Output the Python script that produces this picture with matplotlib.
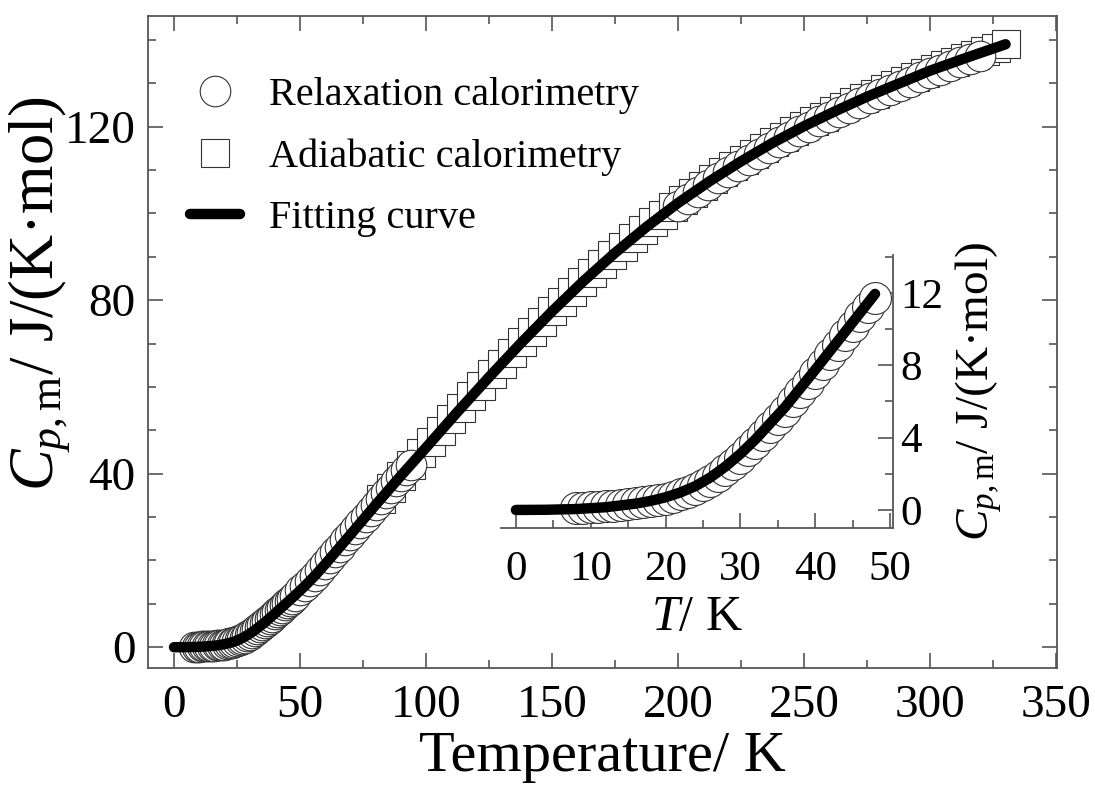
import numpy as np
import matplotlib
matplotlib.use("Agg")
import matplotlib.pyplot as plt
from matplotlib.ticker import MultipleLocator

plt.rcParams['font.family'] = ['Liberation Serif', 'DejaVu Serif']
plt.rcParams['mathtext.fontset'] = 'custom'
plt.rcParams['mathtext.rm'] = 'Liberation Serif'
plt.rcParams['mathtext.it'] = 'Liberation Serif:italic'

# fitting curve
fit_T = [0, 4, 8, 12, 16, 18, 20, 22, 24, 26, 28, 30, 32, 36, 40, 44, 48, 52,
         56, 60, 65, 70, 80, 90, 100, 112.5, 125, 137.5, 150, 162.5, 175,
         187.5, 200, 212.5, 225, 237.5, 250, 262.5, 275, 287.5, 300, 315, 330]
fit_Cp = [0, 0.01, 0.05, 0.15, 0.35, 0.5, 0.7, 0.97, 1.32, 1.8, 2.4, 3.1, 3.9,
          5.7, 7.75, 9.85, 11.95, 14.15, 16.55, 19.15, 22.55, 25.95, 32.8,
          39.5, 46.0, 54.25, 62.25, 70.0, 77.4, 84.4, 90.9, 96.9, 102.4,
          107.4, 112.0, 116.25, 120.1, 123.6, 126.9, 129.9, 132.9, 136.0,
          139.0]

# relaxation calorimetry (circles)
relax_T = [8, 9, 10, 11, 12, 13, 14, 15, 16, 17, 18, 19, 20, 21, 22, 23, 24,
           25, 26, 27, 28, 29, 30, 31, 32, 33, 34, 35, 36, 37, 38, 39, 40, 41,
           42, 43, 44, 45, 46, 47, 48,
           50, 52, 54, 56, 58, 60, 62, 64, 66, 68, 70, 72, 74, 76, 78, 80, 82,
           84, 86, 88, 90, 92, 94,
           200, 204, 208, 212, 216, 220, 224, 228, 232, 236, 240, 244, 248,
           252, 256, 260, 264, 268, 272, 276, 280, 284, 288, 292, 296, 300,
           304, 308, 312, 316, 320]
relax_Cp = [0.12, 0.13, 0.15, 0.17, 0.2, 0.23, 0.27, 0.31, 0.36, 0.42, 0.49,
            0.55, 0.62, 0.74, 0.86, 1.0, 1.16, 1.37, 1.6, 1.9, 2.2, 2.55, 2.9,
            3.3, 3.7, 4.15, 4.6, 5.05, 5.5, 6.0, 6.5, 7.0, 7.55, 8.05, 8.6,
            9.1, 9.65, 10.15, 10.7, 11.2, 11.75,
            13.1, 14.2, 15.3, 16.5, 17.8, 19.1, 20.5, 21.9, 23.2, 24.6, 25.9,
            27.3, 28.7, 30.0, 31.4, 32.8, 34.1, 35.5, 36.8, 38.2, 39.5, 40.8,
            42.1,
            101.8, 103.4, 105.0, 106.6, 108.1, 109.6, 111.0, 112.4, 113.8,
            115.1, 116.4, 117.7, 118.9, 120.0, 121.2, 122.3, 123.4, 124.4,
            125.5, 126.5, 127.5, 128.4, 129.4, 130.4, 131.4, 132.3, 133.1,
            134.0, 134.8, 135.6, 136.4]

# adiabatic calorimetry (squares)
adiab_T = [82, 86, 90, 94, 98, 102, 106, 110, 114, 118, 122, 126, 130, 134,
           138, 142, 146, 150, 154, 158, 162, 166, 170, 174, 178, 182, 186,
           190, 194, 198, 202, 206, 210, 214, 218, 222, 226, 230, 234, 238,
           242, 246, 250, 254, 258, 262, 266, 270, 274, 278, 282, 286, 290,
           294, 298, 302, 306, 310, 314, 318, 322, 326, 330]
adiab_Cp = [34.1, 36.8, 39.5, 42.1, 44.7, 47.3, 49.95, 52.6, 55.2, 57.8,
            60.3, 62.9, 65.4, 67.9, 70.3, 72.7, 75.0, 77.4, 79.6, 81.9, 84.1,
            86.2, 88.3, 90.4, 92.3, 94.3, 96.2, 98.0, 99.7, 101.5, 103.2,
            104.8, 106.4, 107.9, 109.5, 110.9, 112.3, 113.7, 115.0, 116.4,
            117.6, 118.9, 120.1, 121.2, 122.3, 123.5, 124.5, 125.6, 126.6,
            127.6, 128.6, 129.5, 130.5, 131.5, 132.4, 133.3, 134.1, 135.0,
            135.8, 136.6, 137.4, 138.2, 139.0]

inset_max_T = 48.5
spine_col = '#555555'
edge_col = '#333333'

fig = plt.figure(figsize=(10.95, 7.9), dpi=100)
ax = fig.add_axes([0.1352, 0.1544, 0.8301, 0.8253])

sq, = ax.plot(adiab_T, adiab_Cp, 's', ms=19.5, mfc='white', mec=edge_col,
              mew=0.8, label='Adiabatic calorimetry')
ci, = ax.plot(relax_T, relax_Cp, 'o', ms=22, mfc='white', mec=edge_col,
              mew=0.8, label='Relaxation calorimetry')
fl, = ax.plot(fit_T, fit_Cp, '-', color='black', lw=7.5,
              solid_capstyle='round', label='Fitting curve')

ax.set_xlim(-10.3, 350.4)
ax.set_ylim(-4.8, 145.5)
ax.xaxis.set_major_locator(MultipleLocator(50))
ax.xaxis.set_minor_locator(MultipleLocator(25))
ax.yaxis.set_major_locator(MultipleLocator(40))
ax.yaxis.set_minor_locator(MultipleLocator(10))
ax.tick_params(which='both', direction='in', top=True, right=True,
               color=spine_col, width=1.2, labelsize=34)
ax.tick_params(which='major', length=11)
ax.tick_params(which='minor', length=6)
ax.tick_params(axis='x', pad=12)
ax.tick_params(axis='y', pad=9)
for s in ax.spines.values():
    s.set_color(spine_col)
    s.set_linewidth(1.3)
ax.set_xlabel('Temperature/ K', fontsize=42, labelpad=3)
ax.set_ylabel(r'$C_{p,\mathrm{m}}$/ J/(K·mol)', fontsize=45)
ax.yaxis.set_label_coords(-0.084, 0.575)

ax.legend([ci, sq, fl], [ci.get_label(), sq.get_label(), fl.get_label()],
          loc='upper left', bbox_to_anchor=(0.006, 0.962), frameon=False,
          fontsize=29, handlelength=1.25, handletextpad=0.72,
          labelspacing=0.6, borderaxespad=0.5, numpoints=1)

# inset
axi = fig.add_axes([0.4575, 0.3316, 0.358, 0.3456])
axi.patch.set_alpha(0)
ins = [i for i, t in enumerate(relax_T) if t <= inset_max_T]
axi.plot([relax_T[i] for i in ins], [relax_Cp[i] for i in ins], 'o', ms=23,
         mfc='white', mec=edge_col, mew=0.8, clip_on=False)
fit_in = [i for i, t in enumerate(fit_T) if t <= inset_max_T]
axi.plot([fit_T[i] for i in fit_in], [fit_Cp[i] for i in fit_in], '-',
         color='black', lw=7.5, solid_capstyle='round', clip_on=False)
axi.set_xlim(-2, 50.4)
axi.set_ylim(-1, 14.1)
axi.spines['left'].set_visible(False)
axi.spines['top'].set_visible(False)
for s in ('bottom', 'right'):
    axi.spines[s].set_color(spine_col)
    axi.spines[s].set_linewidth(1.3)
axi.yaxis.tick_right()
axi.yaxis.set_label_position('right')
axi.xaxis.set_major_locator(MultipleLocator(10))
axi.xaxis.set_minor_locator(MultipleLocator(5))
axi.yaxis.set_major_locator(MultipleLocator(4))
axi.yaxis.set_minor_locator(MultipleLocator(2))
axi.tick_params(which='both', direction='in', color=spine_col, width=1.2,
                labelsize=31)
axi.tick_params(which='major', length=11)
axi.tick_params(which='minor', length=6)
axi.tick_params(axis='x', pad=16)
axi.tick_params(axis='y', pad=5)
axi.set_xlabel(r'$T$/ K', fontsize=36, labelpad=4)
axi.set_ylabel(r'$C_{p,\mathrm{m}}$/ J/(K·mol)', fontsize=34, labelpad=8)

fig.savefig('out.png', dpi=100)
